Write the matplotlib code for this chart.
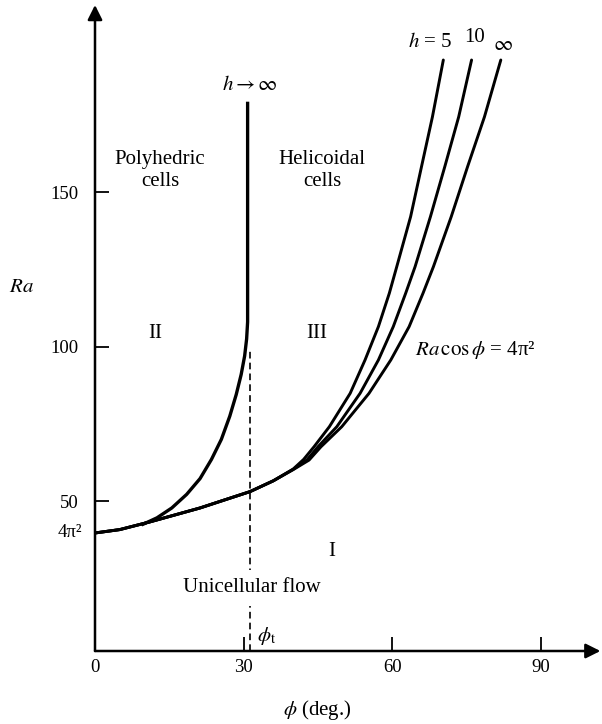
import matplotlib.pyplot as plt

plt.rcParams['font.family'] = ['Liberation Serif', 'DejaVu Serif']
plt.rcParams['mathtext.fontset'] = 'stix'

# curves: phi (deg.) and Ra
h5_phi = [0, 5, 11.1, 21.2, 31.3, 36.0, 40.0, 42.1, 44.2, 47.3, 51.5, 54.5, 57.2, 59.4, 60.9, 63.7, 65.9, 68.1, 70.3]
h5_ra = [39.7, 40.8, 43.3, 47.8, 53.1, 56.6, 60.4, 63.5, 67.6, 74.1, 84.9, 95.7, 106.5, 117.3, 125.9, 142.1, 158.3, 174.4, 192.8]

h10_phi = [0, 5, 11.1, 21.2, 31.3, 36.0, 40.0, 42.8, 45.0, 48.8, 53.5, 57.2, 60.2, 62.7, 64.6, 67.7, 70.6, 73.4, 76.0]
h10_ra = [39.7, 40.8, 43.3, 47.8, 53.1, 56.6, 60.3, 63.4, 67.6, 74.1, 84.9, 95.7, 106.5, 117.3, 125.9, 142.1, 158.3, 174.4, 192.8]

hinf_phi = [0, 5, 11.1, 21.2, 31.3, 36.0, 40.0, 43.2, 45.6, 49.8, 55.3, 59.7, 63.4, 66.2, 68.3, 71.9, 75.2, 78.6, 81.9]
hinf_ra = [39.7, 40.8, 43.3, 47.8, 53.1, 56.6, 60.2, 63.3, 67.6, 74.1, 84.9, 95.7, 106.5, 117.3, 125.9, 142.1, 158.3, 174.4, 192.8]

# polyhedric / helicoidal boundary (h -> inf)
poly_phi = [9.4, 12.5, 15.5, 18.5, 21.2, 23.5, 25.5, 27.2, 28.5, 29.5, 30.2, 30.6, 30.8, 30.8]
poly_ra = [42.3, 44.6, 47.8, 52.2, 57.3, 63.5, 70.0, 77.5, 84.5, 91.0, 97.0, 102.5, 108.0, 179.3]

phi_t = 31.3
phi_t_top = 99.0

xticks = [0, 30, 60, 90]
yticks = [50, 100, 150]

xmax = 102
ymin, ymax = 1.5, 210.6

fig = plt.figure(figsize=(6.02, 7.24), dpi=100)
ax = fig.add_axes([95 / 602, 73 / 724, 505.4 / 602, 646 / 724])
ax.set_xlim(0, xmax)
ax.set_ylim(ymin, ymax)
for s in ax.spines.values():
    s.set_visible(False)

# axes with arrows
arr = dict(arrowstyle='-|>', lw=1.8, color='k', mutation_scale=22, shrinkA=0, shrinkB=0)
ax.annotate('', xy=(xmax, ymin), xytext=(0, ymin), arrowprops=arr, annotation_clip=False)
ax.annotate('', xy=(0, ymax), xytext=(0, ymin), arrowprops=arr, annotation_clip=False)

ax.set_xticks(xticks)
ax.set_yticks(yticks)
ax.tick_params(direction='in', length=10, width=1.3, labelsize=13.5)
ax.tick_params(axis='x', pad=6)
ax.tick_params(axis='y', pad=12)

lw = 2.1
for px, py in [(h5_phi, h5_ra), (h10_phi, h10_ra), (hinf_phi, hinf_ra)]:
    ax.plot(px, py, color='k', lw=lw, solid_capstyle='round', solid_joinstyle='round')
ax.plot(poly_phi, poly_ra, color='k', lw=lw + 0.3, solid_capstyle='butt', solid_joinstyle='round')
ax.plot([phi_t, phi_t], [ymin, phi_t_top], color='k', lw=1.2, ls=(0, (4, 2.5)))

fs = 15
ax.text(31.3, 184.7, r'$h \rightarrow \infty$', fontsize=fs, ha='center', va='center')
ax.text(13.1, 157, 'Polyhedric\ncells', fontsize=fs, ha='center', va='center', linespacing=1.25)
ax.text(45.8, 157, 'Helicoidal\ncells', fontsize=fs, ha='center', va='center', linespacing=1.25)
ax.text(12.1, 104.4, 'II', fontsize=fs, ha='center', va='center')
ax.text(44.8, 104.4, 'III', fontsize=fs, ha='center', va='center')
ax.text(47.8, 33.7, 'I', fontsize=fs, ha='center', va='center')
ax.text(64.6, 98.9, r'$Ra\,\cos\phi$ = 4π²', fontsize=fs, ha='left', va='center')
ax.text(31.7, 21.9, 'Unicellular flow', fontsize=fs, ha='center', va='center',
        bbox=dict(facecolor='white', edgecolor='none', pad=6))
ax.text(34.6, 6.5, r'$\phi_{\rm t}$', fontsize=fs, ha='center', va='center')
ax.text(67.6, 198.6, r'$h$ = 5', fontsize=fs, ha='center', va='center')
ax.text(76.5, 200.2, '10', fontsize=fs, ha='center', va='center')
ax.text(82.4, 197.6, r'$\infty$', fontsize=fs, ha='center', va='center')
ax.text(-14.9, 119.3, r'$Ra$', fontsize=fs, ha='center', va='center', clip_on=False)
ax.text(-2.6, 39.7, '4π²', fontsize=13.5, ha='right', va='center', clip_on=False)
ax.text(44.8, -17.6, r'$\phi$ (deg.)', fontsize=fs, ha='center', va='center', clip_on=False)

fig.savefig('out.png', dpi=100)
